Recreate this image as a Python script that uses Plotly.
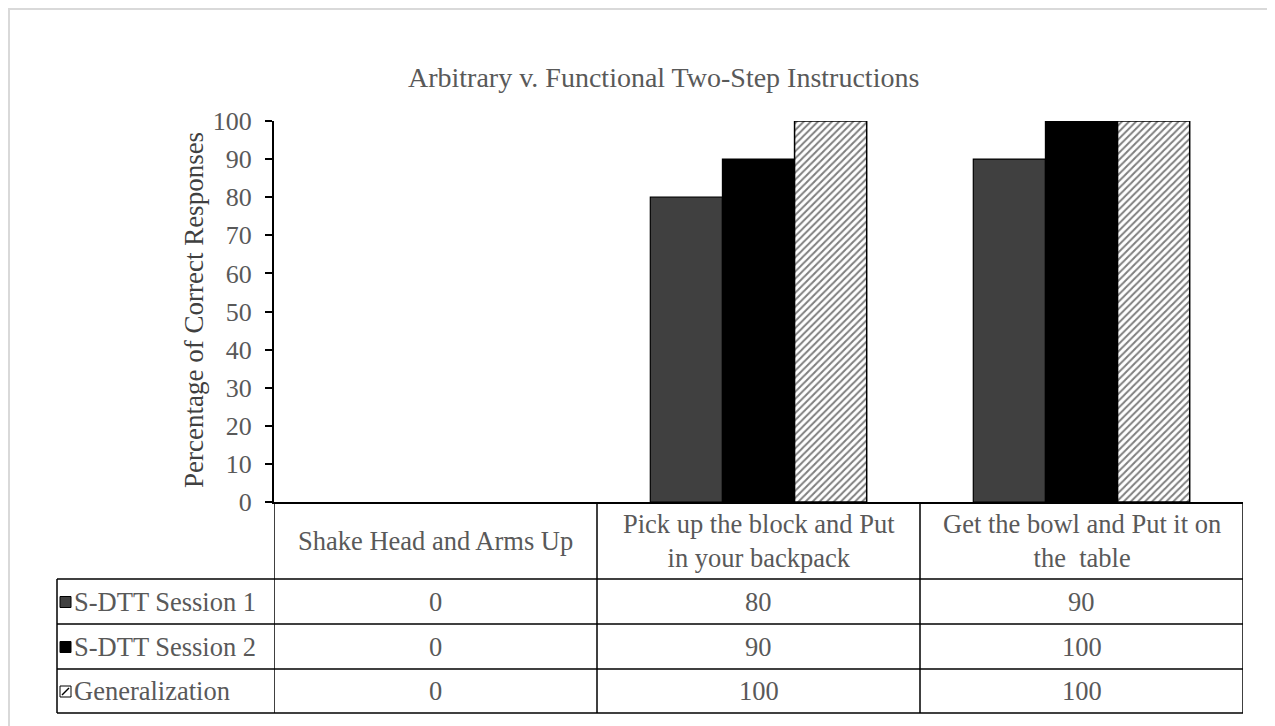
import plotly.graph_objects as go

# data
categories = ["Shake Head and Arms Up",
              "Pick up the block and Put<br>in your backpack",
              "Get the bowl and Put it on<br>the  table"]
series_names = ["S-DTT Session 1", "S-DTT Session 2", "Generalization"]
session1 = [0, 80, 90]
session2 = [0, 90, 100]
generalization = [0, 100, 100]
y_ticks = list(range(0, 101, 10))

W, H = 1275, 726
OFF = 8  # page body margin
L, R, T, B = 266, 40, 113, 232
PW, PH = W - L - R, H - T - B
TXT = "#595959"
FONT = "Liberation Serif"


# screen pixel -> paper coordinates
def px(x):
    return (x - OFF - L) / PW


def py(y):
    return (H - B - (y - OFF)) / PH


def edge(vals, w):
    return [w if v > 0 else 0 for v in vals]


fig = go.Figure()
fig.add_trace(go.Bar(x=categories, y=session1, name=series_names[0],
                     marker=dict(color="#404040",
                                 line=dict(color="black", width=edge(session1, 1.2)))))
fig.add_trace(go.Bar(x=categories, y=session2, name=series_names[1],
                     marker=dict(color="#000000",
                                 line=dict(color="black", width=edge(session2, 1.2)))))
fig.add_trace(go.Bar(x=categories, y=generalization, name=series_names[2],
                     marker=dict(color="white",
                                 line=dict(color="black", width=edge(generalization, 1.5)),
                                 pattern=dict(shape="/", fgcolor="black", bgcolor="white",
                                              size=5, solidity=0.4))))

shapes = []
annotations = []
line = dict(color="black", width=1.5)

# outer light border (figure starts at the page margin)
shapes.append(dict(type="rect", xref="paper", yref="paper",
                   x0=px(OFF + 1), x1=px(1273), y0=py(OFF + 1), y1=py(760),
                   line=dict(color="#d9d9d9", width=2), layer="below"))

# data table
row_y = [502, 579, 624, 669, 713]
left_x = 57
right_x = 1243
for y in row_y[1:]:
    shapes.append(dict(type="line", xref="paper", yref="paper",
                       x0=px(left_x), x1=px(right_x), y0=py(y), y1=py(y), line=line))
shapes.append(dict(type="line", xref="paper", yref="paper",
                   x0=px(left_x), x1=px(left_x), y0=py(row_y[1]), y1=py(row_y[-1]), line=line))
for i in range(len(categories) + 1):
    shapes.append(dict(type="line", xref="x", yref="paper",
                       x0=i - 0.5, x1=i - 0.5, y0=py(row_y[0]), y1=py(row_y[-1]), line=line))

cell_font = dict(family=FONT, size=26.5, color=TXT)

# header labels
for i, c in enumerate(categories):
    annotations.append(dict(x=i, xref="x", y=py((row_y[0] + row_y[1]) / 2), yref="paper",
                            text=c, xanchor="center", yanchor="middle",
                            showarrow=False, font=cell_font))

# rows
key_fill = ["#404040", "#000000", "white"]
for r, (name, vals) in enumerate(zip(series_names, [session1, session2, generalization])):
    yc = (row_y[r + 1] + row_y[r + 2]) / 2
    shapes.append(dict(type="rect", xref="paper", yref="paper",
                       x0=px(60), x1=px(71), y0=py(yc - 5), y1=py(yc + 6),
                       fillcolor=key_fill[r], line=dict(color="black", width=1)))
    if r == 2:
        shapes.append(dict(type="line", xref="paper", yref="paper",
                           x0=px(62), x1=px(69), y0=py(yc + 4), y1=py(yc - 3),
                           line=dict(color="black", width=1.5)))
    annotations.append(dict(x=px(72), xref="paper", y=py(yc), yref="paper", text=name,
                            xanchor="left", yanchor="middle", showarrow=False,
                            font=cell_font))
    for i, v in enumerate(vals):
        annotations.append(dict(x=i, xref="x", y=py(yc), yref="paper", text=str(v),
                                xanchor="center", yanchor="middle",
                                showarrow=False, font=cell_font))

# title and axis label
annotations.append(dict(x=px(663), y=py(77), xref="paper", yref="paper",
                        xanchor="center", yanchor="middle",
                        text="Arbitrary v. Functional Two-Step Instructions",
                        showarrow=False, font=dict(family=FONT, size=28, color=TXT)))
annotations.append(dict(x=px(194), y=py(310), xref="paper", yref="paper",
                        xanchor="center", yanchor="middle",
                        text="Percentage of Correct Responses", textangle=-90,
                        showarrow=False, font=dict(family=FONT, size=27, color="#404040")))

fig.update_layout(
    width=W, height=H,
    margin=dict(l=L, r=R, t=T, b=B),
    paper_bgcolor="white", plot_bgcolor="white",
    barmode="group", bargap=0.33, bargroupgap=0,
    showlegend=False,
    shapes=shapes, annotations=annotations,
    font=dict(family=FONT, color=TXT),
)
fig.update_xaxes(showticklabels=False, showline=True, linecolor="black", linewidth=2,
                 ticks="", range=[-0.5, 2.5], showgrid=False, zeroline=False)
fig.update_yaxes(range=[0, 100], tickvals=y_ticks, showline=True, linecolor="black",
                 linewidth=2, ticks="outside", ticklen=7, tickcolor="black", tickwidth=1.5,
                 ticklabelstandoff=8, showgrid=False, zeroline=False,
                 tickfont=dict(family=FONT, size=26, color=TXT))

fig.write_html("out.html")
